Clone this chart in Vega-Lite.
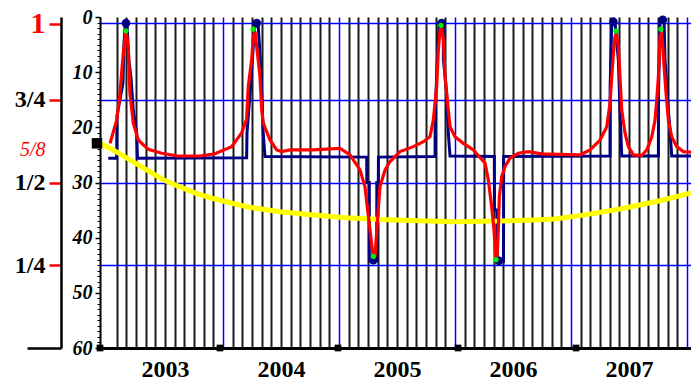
{
  "$schema": "https://vega.github.io/schema/vega-lite/v6.json",
  "width": 591,
  "height": 331,
  "autosize": {"type": "none"},
  "padding": {"left": 100, "top": 17, "right": 0, "bottom": 35},
  "background": "white",
  "config": {"view": {"stroke": null}, "axis": {"labelFont": "Liberation Serif"}},
  "datasets": {
    "navy": [
      {"year": 2003.011, "value": 25.6}, {"year": 2003.084, "value": 25.6}, {"year": 2003.086, "value": 18}, {"year": 2003.138, "value": 12}, {"year": 2003.147, "value": 4.7}, {"year": 2003.159, "value": 1.1}, {"year": 2003.172, "value": 1.1}, {"year": 2003.19, "value": 8}, {"year": 2003.207, "value": 11}, {"year": 2003.227, "value": 17}, {"year": 2003.256, "value": 21}, {"year": 2003.263, "value": 25.6},
      {"year": 2004.204, "value": 25.5}, {"year": 2004.207, "value": 21}, {"year": 2004.233, "value": 14}, {"year": 2004.261, "value": 5.4}, {"year": 2004.276, "value": 1.1}, {"year": 2004.302, "value": 1.1}, {"year": 2004.319, "value": 6.6}, {"year": 2004.334, "value": 13.8}, {"year": 2004.347, "value": 21.1}, {"year": 2004.362, "value": 25.3},
      {"year": 2005.239, "value": 25.4}, {"year": 2005.24, "value": 30}, {"year": 2005.261, "value": 30}, {"year": 2005.262, "value": 44.2}, {"year": 2005.325, "value": 44.2}, {"year": 2005.326, "value": 30}, {"year": 2005.339, "value": 30}, {"year": 2005.34, "value": 25.4},
      {"year": 2005.828, "value": 25.3}, {"year": 2005.829, "value": 17.4}, {"year": 2005.847, "value": 7.8}, {"year": 2005.864, "value": 1.1}, {"year": 2005.899, "value": 1.1}, {"year": 2005.9, "value": 7.8}, {"year": 2005.928, "value": 13.8}, {"year": 2005.942, "value": 21}, {"year": 2005.957, "value": 25.2},
      {"year": 2006.339, "value": 25.3}, {"year": 2006.34, "value": 35}, {"year": 2006.362, "value": 35}, {"year": 2006.363, "value": 44.3}, {"year": 2006.418, "value": 44.3}, {"year": 2006.419, "value": 25.3},
      {"year": 2007.336, "value": 25.2}, {"year": 2007.337, "value": 12.6}, {"year": 2007.351, "value": 1.1}, {"year": 2007.379, "value": 0.9}, {"year": 2007.408, "value": 7.8}, {"year": 2007.422, "value": 16.9}, {"year": 2007.437, "value": 25.2},
      {"year": 2007.753, "value": 25.2}, {"year": 2007.754, "value": 13.8}, {"year": 2007.767, "value": 1.1}, {"year": 2007.802, "value": 0.8}, {"year": 2007.81, "value": 7.8}, {"year": 2007.839, "value": 16.9}, {"year": 2007.853, "value": 20.5}, {"year": 2007.868, "value": 25.2}, {"year": 2008.034, "value": 25.2}
    ],
    "red": [
      {"year": 2003.026, "value": 22.9}, {"year": 2003.084, "value": 18.7}, {"year": 2003.112, "value": 13.8}, {"year": 2003.141, "value": 6.5}, {"year": 2003.161, "value": 3.0}, {"year": 2003.171, "value": 3.2}, {"year": 2003.184, "value": 6}, {"year": 2003.198, "value": 13.8}, {"year": 2003.227, "value": 19.2}, {"year": 2003.27, "value": 22.3}, {"year": 2003.356, "value": 24.0}, {"year": 2003.472, "value": 24.7}, {"year": 2003.612, "value": 25.2}, {"year": 2003.802, "value": 25.2}, {"year": 2003.931, "value": 24.8}, {"year": 2004.075, "value": 23.5}, {"year": 2004.161, "value": 21}, {"year": 2004.204, "value": 18.5}, {"year": 2004.218, "value": 12.6}, {"year": 2004.247, "value": 7.8}, {"year": 2004.261, "value": 3.6}, {"year": 2004.276, "value": 2.6}, {"year": 2004.291, "value": 5.4}, {"year": 2004.319, "value": 10.8}, {"year": 2004.334, "value": 16.9}, {"year": 2004.347, "value": 19.2}, {"year": 2004.405, "value": 22.3}, {"year": 2004.463, "value": 24.1}, {"year": 2004.506, "value": 24.4}, {"year": 2004.578, "value": 24.1}, {"year": 2004.776, "value": 24.1}, {"year": 2005.009, "value": 23.8}, {"year": 2005.095, "value": 25.0}, {"year": 2005.181, "value": 27.7}, {"year": 2005.224, "value": 30.8}, {"year": 2005.267, "value": 38.6}, {"year": 2005.293, "value": 43.1}, {"year": 2005.31, "value": 43.5}, {"year": 2005.336, "value": 35.5}, {"year": 2005.353, "value": 30.8}, {"year": 2005.397, "value": 27.7}, {"year": 2005.44, "value": 26.2}, {"year": 2005.526, "value": 24.4}, {"year": 2005.641, "value": 23.5}, {"year": 2005.728, "value": 22.6}, {"year": 2005.784, "value": 21.7}, {"year": 2005.813, "value": 18.7}, {"year": 2005.842, "value": 12.6}, {"year": 2005.856, "value": 6.0}, {"year": 2005.871, "value": 2.4}, {"year": 2005.884, "value": 1.8}, {"year": 2005.9, "value": 4.2}, {"year": 2005.914, "value": 10.8}, {"year": 2005.942, "value": 16.9}, {"year": 2005.957, "value": 19.9}, {"year": 2006.0, "value": 21.7}, {"year": 2006.072, "value": 22.9}, {"year": 2006.158, "value": 24.1}, {"year": 2006.259, "value": 26.5}, {"year": 2006.287, "value": 29.5}, {"year": 2006.316, "value": 34.4}, {"year": 2006.336, "value": 38.6}, {"year": 2006.351, "value": 43.7}, {"year": 2006.362, "value": 43.7}, {"year": 2006.373, "value": 38.6}, {"year": 2006.382, "value": 32.6}, {"year": 2006.403, "value": 28.9}, {"year": 2006.431, "value": 27.1}, {"year": 2006.474, "value": 25.6}, {"year": 2006.546, "value": 24.7}, {"year": 2006.632, "value": 24.4}, {"year": 2006.747, "value": 24.8}, {"year": 2006.905, "value": 24.9}, {"year": 2007.078, "value": 25.0}, {"year": 2007.164, "value": 24.1}, {"year": 2007.25, "value": 22.3}, {"year": 2007.308, "value": 19.9}, {"year": 2007.336, "value": 15.6}, {"year": 2007.351, "value": 10.8}, {"year": 2007.365, "value": 6.6}, {"year": 2007.379, "value": 3.6}, {"year": 2007.392, "value": 3.2}, {"year": 2007.408, "value": 5.4}, {"year": 2007.422, "value": 10.8}, {"year": 2007.437, "value": 16.9}, {"year": 2007.466, "value": 21.1}, {"year": 2007.494, "value": 23.5}, {"year": 2007.537, "value": 25.0}, {"year": 2007.609, "value": 25.1}, {"year": 2007.653, "value": 24.1}, {"year": 2007.696, "value": 21.7}, {"year": 2007.724, "value": 18.7}, {"year": 2007.739, "value": 15.0}, {"year": 2007.753, "value": 10.8}, {"year": 2007.761, "value": 6.6}, {"year": 2007.767, "value": 3.6}, {"year": 2007.778, "value": 2.8}, {"year": 2007.787, "value": 4.2}, {"year": 2007.802, "value": 9.0}, {"year": 2007.819, "value": 13.8}, {"year": 2007.839, "value": 18.7}, {"year": 2007.868, "value": 21.7}, {"year": 2007.911, "value": 23.5}, {"year": 2007.968, "value": 24.4}, {"year": 2008.034, "value": 24.5}
    ],
    "yellow": [
      {"year": 2002.94, "value": 22.9}, {"year": 2003.054, "value": 24.1}, {"year": 2003.198, "value": 25.9}, {"year": 2003.342, "value": 27.7}, {"year": 2003.485, "value": 29.5}, {"year": 2003.629, "value": 30.8}, {"year": 2003.773, "value": 32.0}, {"year": 2003.914, "value": 32.9}, {"year": 2004.204, "value": 34.4}, {"year": 2004.491, "value": 35.3}, {"year": 2004.776, "value": 35.9}, {"year": 2005.066, "value": 36.4}, {"year": 2005.353, "value": 36.7}, {"year": 2005.784, "value": 37.0}, {"year": 2006.0, "value": 37.1}, {"year": 2006.388, "value": 37.0}, {"year": 2006.661, "value": 36.8}, {"year": 2006.862, "value": 36.6}, {"year": 2007.078, "value": 36.0}, {"year": 2007.422, "value": 34.8}, {"year": 2007.767, "value": 33.3}, {"year": 2008.034, "value": 31.9}
    ],
    "navyDots": [
      {"year": 2003.164, "value": 1.1}, {"year": 2004.291, "value": 1.1}, {"year": 2005.296, "value": 44.1}, {"year": 2005.885, "value": 1.1}, {"year": 2006.379, "value": 44.2}, {"year": 2007.365, "value": 0.85}, {"year": 2007.791, "value": 0.5}
    ],
    "greenDots": [
      {"year": 2003.164, "value": 2.5}, {"year": 2004.261, "value": 2.2}, {"year": 2005.296, "value": 43.4}, {"year": 2005.879, "value": 1.5}, {"year": 2006.353, "value": 44.0}, {"year": 2007.388, "value": 2.5}, {"year": 2007.774, "value": 2.2}
    ],
    "startMark": [{"year": 2002.914, "value": 22.9}],
    "axisMarks": [
      {"year": 2002.94, "value": 60}, {"year": 2003.974, "value": 60}, {"year": 2004.991, "value": 60}, {"year": 2006.026, "value": 60}, {"year": 2007.043, "value": 60}
    ]
  },
  "layer": [
    {
      "data": {"name": "navy"},
      "mark": {"type": "line", "color": "#000080", "strokeWidth": 3},
      "encoding": {
        "x": {"field": "year", "type": "quantitative", "title": null,
          "scale": {"domain": [2002.94, 2008.034], "nice": false, "zero": false},
          "axis": {"orient": "bottom", "grid": true, "gridColor": "#1a1a1a", "gridWidth": 2, "gridOpacity": 1, "labels": false, "ticks": false, "domain": false,
            "values": [2003.0833, 2003.1667, 2003.25, 2003.3333, 2003.4167, 2003.5, 2003.5833, 2003.6667, 2003.75, 2003.8333, 2003.9167,
                       2004.0833, 2004.1667, 2004.25, 2004.3333, 2004.4167, 2004.5, 2004.5833, 2004.6667, 2004.75, 2004.8333, 2004.9167,
                       2005.0833, 2005.1667, 2005.25, 2005.3333, 2005.4167, 2005.5, 2005.5833, 2005.6667, 2005.75, 2005.8333, 2005.9167,
                       2006.0833, 2006.1667, 2006.25, 2006.3333, 2006.4167, 2006.5, 2006.5833, 2006.6667, 2006.75, 2006.8333, 2006.9167,
                       2007.0833, 2007.1667, 2007.25, 2007.3333, 2007.4167, 2007.5, 2007.5833, 2007.6667, 2007.75, 2007.8333, 2007.9167]}},
        "y": {"field": "value", "type": "quantitative", "title": null,
          "scale": {"domain": [0, 60], "reverse": true, "nice": false, "zero": false},
          "axis": {"orient": "left", "offset": 39, "grid": false, "values": [1.2, 15, 24, 30, 45, 60],
            "labelExpr": "datum.value == 60 ? '' : datum.value < 2 ? '1' : datum.value == 15 ? '3/4' : datum.value == 24 ? '5/8' : datum.value == 30 ? '1/2' : '1/4'",
            "domainColor": "black", "domainWidth": 2.5,
            "tickSize": {"condition": {"test": "datum.value == 60", "value": 34}, "value": 12},
            "tickWidth": 2.5,
            "tickColor": {"condition": [{"test": "datum.value == 60", "value": "black"}, {"test": "datum.value == 24", "value": "transparent"}], "value": "#ff0000"},
            "labelPadding": 4,
            "labelFontWeight": {"condition": {"test": "datum.value == 24", "value": "normal"}, "value": "bold"},
            "labelFontStyle": {"condition": {"test": "datum.value == 24", "value": "italic"}, "value": "normal"},
            "labelColor": {"condition": {"test": "datum.value < 2 || datum.value == 24", "value": "#ff0000"}, "value": "black"},
            "labelFontSize": {"condition": [{"test": "datum.value < 2", "value": 30}, {"test": "datum.value == 24", "value": 20}], "value": 24}}}
      }
    },
    {
      "data": {"name": "yellow"},
      "mark": {"type": "line", "color": "#ffff00", "strokeWidth": 5},
      "encoding": {
        "x": {"field": "year", "type": "quantitative", "title": null,
          "scale": {"domain": [2002.94, 2008.034], "nice": false, "zero": false},
          "axis": {"orient": "bottom", "values": [2004, 2005, 2006, 2007, 2008], "grid": true, "gridColor": "#0000ff", "gridWidth": 1.5, "gridOpacity": 1, "labels": false, "ticks": false, "domain": false}},
        "y": {"field": "value", "type": "quantitative", "title": null,
          "scale": {"domain": [0, 60], "reverse": true, "nice": false, "zero": false},
          "axis": {"orient": "left", "values": [0, 10, 20, 30, 40, 50, 60], "grid": false,
            "labelFontStyle": "italic", "labelFontWeight": "bold", "labelFontSize": 20, "labelColor": "black", "labelPadding": 3,
            "tickSize": 5, "tickColor": "black", "tickWidth": 1.5, "domainColor": "black", "domainWidth": 2}}
      }
    },
    {
      "data": {"name": "red"},
      "mark": {"type": "line", "color": "#ff0000", "strokeWidth": 3.2},
      "encoding": {
        "x": {"field": "year", "type": "quantitative", "title": null,
          "scale": {"domain": [2002.94, 2008.034], "nice": false, "zero": false},
          "axis": {"orient": "bottom", "values": [2003.5, 2004.5, 2005.5, 2006.5, 2007.5], "labelExpr": "'' + floor(datum.value)",
            "grid": false, "ticks": false, "domain": true, "domainColor": "black", "domainWidth": 3,
            "labelFontSize": 24, "labelFontWeight": "bold", "labelColor": "black", "labelPadding": 9}},
        "y": {"field": "value", "type": "quantitative", "title": null,
          "scale": {"domain": [0, 60], "reverse": true, "nice": false, "zero": false},
          "axis": {"orient": "left", "values": [1, 15, 30, 45], "grid": true, "gridColor": "#0000ff", "gridWidth": 1.5, "gridOpacity": 1, "labels": false, "ticks": false, "domain": false}}
      }
    },
    {
      "data": {"name": "navyDots"},
      "mark": {"type": "point", "shape": "circle", "filled": true, "color": "#000080", "size": 75, "opacity": 1},
      "encoding": {
        "x": {"field": "year", "type": "quantitative", "axis": null,
          "scale": {"domain": [2002.94, 2008.034], "nice": false, "zero": false}},
        "y": {"field": "value", "type": "quantitative", "title": null,
          "scale": {"domain": [0, 60], "reverse": true, "nice": false, "zero": false},
          "axis": {"orient": "left", "values": [0,1,2,3,4,5,6,7,8,9,10,11,12,13,14,15,16,17,18,19,20,21,22,23,24,25,26,27,28,29,30,31,32,33,34,35,36,37,38,39,40,41,42,43,44,45,46,47,48,49,50,51,52,53,54,55,56,57,58,59,60],
            "labels": false, "grid": false, "domain": false, "tickSize": 3, "tickWidth": 1, "tickColor": "black"}}
      }
    },
    {
      "data": {"name": "greenDots"},
      "mark": {"type": "point", "shape": "circle", "filled": true, "color": "#00ee00", "size": 28, "opacity": 1},
      "encoding": {
        "x": {"field": "year", "type": "quantitative", "axis": null, "scale": {"domain": [2002.94, 2008.034], "nice": false, "zero": false}},
        "y": {"field": "value", "type": "quantitative", "axis": null, "scale": {"domain": [0, 60], "reverse": true, "nice": false, "zero": false}}
      }
    },
    {
      "data": {"name": "startMark"},
      "mark": {"type": "point", "shape": "square", "filled": true, "color": "black", "size": 110, "opacity": 1},
      "encoding": {
        "x": {"field": "year", "type": "quantitative", "axis": null, "scale": {"domain": [2002.94, 2008.034], "nice": false, "zero": false}},
        "y": {"field": "value", "type": "quantitative", "axis": null, "scale": {"domain": [0, 60], "reverse": true, "nice": false, "zero": false}}
      }
    },
    {
      "data": {"name": "axisMarks"},
      "mark": {"type": "point", "shape": "square", "filled": true, "color": "black", "size": 45, "opacity": 1},
      "encoding": {
        "x": {"field": "year", "type": "quantitative", "axis": null, "scale": {"domain": [2002.94, 2008.034], "nice": false, "zero": false}},
        "y": {"field": "value", "type": "quantitative", "axis": null, "scale": {"domain": [0, 60], "reverse": true, "nice": false, "zero": false}}
      }
    }
  ],
  "resolve": {"axis": {"x": "independent", "y": "independent"}}
}
